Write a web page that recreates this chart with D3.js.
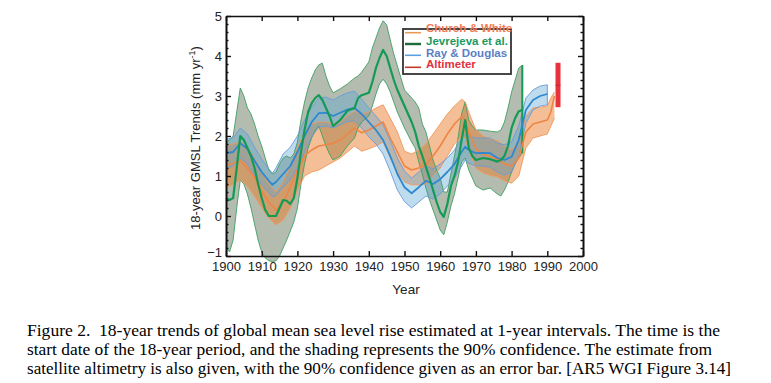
<!DOCTYPE html>
<html><head><meta charset="utf-8">
<script src="https://cdn.jsdelivr.net/npm/d3@7"></script>
<style>
html,body{margin:0;padding:0;background:#fff;}
svg{display:block;}
</style></head>
<body>
<svg id="chart" width="771" height="383"></svg>
<script>
// ---------------- DATA ----------------
// Church & White
const cwYears = [1900,1902,1904,1906,1908,1910,1912,1914,1916,1918,1920,1922,1924,1926,1928,1930,1932,1934,1936,1938,1940,1942,1944,1946,1948,1950,1952,1954,1956,1958,1960,1962,1964,1966,1967,1968,1970,1972,1974,1976,1978,1980,1982,1984,1986,1988,1990,1991,1992];
const cwMid = [1.27,1.32,1.38,1.2,0.95,0.62,0.35,0.15,0.35,0.72,1.15,1.5,1.65,1.75,1.78,1.82,1.9,2.05,2.2,2.08,2.15,2.25,2.35,1.95,1.6,1.25,1.15,1.2,1.28,1.5,1.75,2.05,2.3,2.48,2.4,2.1,1.68,1.55,1.48,1.42,1.3,1.25,1.45,2.1,2.3,2.35,2.4,2.6,3.0];
const cwHi = [1.75,1.8,1.85,1.7,1.45,1.1,0.8,0.6,0.85,1.25,1.7,2.1,2.3,2.35,2.35,2.3,2.35,2.5,2.62,2.55,2.6,2.7,2.78,2.45,2.1,1.62,1.55,1.65,1.8,2.05,2.3,2.55,2.75,2.92,2.85,2.6,2.15,2.0,1.92,1.88,1.75,1.65,1.85,2.5,2.7,2.72,2.75,2.95,3.1];
const cwLo = [0.7,0.8,0.9,0.75,0.5,0.2,-0.05,-0.22,-0.1,0.2,0.65,1.0,1.1,1.15,1.25,1.35,1.45,1.6,1.75,1.62,1.68,1.75,1.85,1.45,1.1,0.85,0.78,0.78,0.8,1.0,1.2,1.5,1.8,2.0,1.95,1.65,1.2,1.08,1.02,0.98,0.88,0.82,1.0,1.7,1.95,2.0,2.05,2.25,2.45];

// Jevrejeva et al.
const jeYears = [1900,1901,1902,1903,1904,1905,1906,1907,1908,1909,1910,1911,1912,1913,1914,1915,1916,1917,1918,1919,1920,1921,1922,1923,1924,1925,1926,1927,1928,1929,1930,1932,1934,1936,1937,1938,1940,1941,1942,1943,1944,1945,1946,1947,1948,1950,1952,1953,1954,1955,1956,1957,1958,1959,1960,1961,1962,1963,1964,1965,1966,1967,1968,1969,1970,1972,1974,1976,1977,1978,1979,1980,1981,1982,1983];
const jeMid = [0.45,0.40,0.45,1.20,2.00,1.90,1.70,1.50,1.20,0.80,0.45,0.15,0.00,0.00,0.00,0.20,0.40,0.38,0.30,0.45,0.95,1.60,2.15,2.60,2.82,2.95,3.02,2.90,2.70,2.50,2.25,2.40,2.63,2.70,2.95,3.02,3.08,3.35,3.70,3.95,4.15,4.00,3.70,3.40,3.15,2.75,2.35,2.10,1.75,1.50,1.23,0.95,0.65,0.35,0.10,-0.02,0.30,0.75,1.00,1.35,1.90,2.40,1.70,1.50,1.40,1.45,1.42,1.36,1.40,1.50,1.75,2.20,2.45,2.62,2.65];
const jeHi = [1.85,1.90,2.00,2.60,3.20,3.00,2.70,2.55,2.30,2.00,1.75,1.45,1.15,1.05,1.10,1.30,1.45,1.50,1.45,1.55,1.85,2.40,2.85,3.20,3.45,3.65,3.78,3.82,3.50,3.25,3.08,3.18,3.30,3.45,3.50,3.60,3.85,4.20,4.45,4.70,4.88,4.78,4.40,4.05,3.75,3.15,2.95,2.85,2.70,2.30,2.10,1.75,1.40,1.15,0.95,0.60,0.60,1.05,1.50,1.95,2.55,2.85,2.40,2.25,2.15,2.15,2.12,2.10,2.15,2.35,2.70,3.10,3.40,3.70,3.77];
const jeLo = [-0.80,-0.90,-0.60,0.20,0.90,0.80,0.55,0.20,-0.20,-0.60,-0.90,-1.05,-1.12,-1.14,-1.12,-1.00,-0.80,-0.60,-0.38,-0.15,0.20,0.80,1.30,1.70,1.95,2.15,2.25,2.00,1.75,1.55,1.40,1.50,1.75,1.95,2.20,2.35,2.50,2.75,3.05,3.30,3.42,3.30,3.10,2.85,2.60,2.20,1.85,1.70,1.35,1.05,0.70,0.40,0.15,-0.10,-0.35,-0.47,-0.15,0.25,0.55,0.95,1.35,1.45,1.15,0.95,0.75,0.65,0.70,0.55,0.50,0.65,0.85,1.10,1.30,1.45,1.57];

// Ray & Douglas
const rdYears = [1900,1902,1904,1906,1908,1910,1912,1913,1914,1916,1918,1920,1922,1924,1926,1928,1930,1932,1934,1936,1938,1940,1942,1944,1946,1948,1950,1952,1954,1956,1958,1960,1962,1964,1966,1967,1968,1970,1972,1974,1976,1978,1980,1982,1984,1986,1988,1990];
const rdMid = [1.57,1.6,1.82,1.68,1.38,1.1,0.88,0.78,0.85,1.05,1.25,1.6,2.0,2.35,2.57,2.58,2.5,2.58,2.66,2.7,2.55,2.35,2.15,1.9,1.5,1.05,0.72,0.57,0.72,0.88,0.8,0.92,1.1,1.3,1.6,1.73,1.65,1.57,1.58,1.57,1.45,1.4,1.48,1.9,2.65,2.9,3.0,3.05];
const rdHi = [1.92,1.95,2.2,2.05,1.72,1.42,1.18,1.07,1.2,1.55,1.72,2.0,2.4,2.72,2.95,2.97,2.9,3.0,3.08,3.12,2.92,2.7,2.5,2.28,1.88,1.45,1.12,0.95,1.1,1.25,1.18,1.3,1.45,1.65,1.95,2.05,2.0,1.95,1.95,1.95,1.82,1.78,1.85,2.25,2.95,3.15,3.25,3.28];
const rdLo = [1.2,1.25,1.45,1.3,1.02,0.78,0.58,0.48,0.52,0.72,0.9,1.2,1.6,1.98,2.22,2.25,2.2,2.28,2.36,2.38,2.2,1.98,1.8,1.55,1.12,0.65,0.36,0.2,0.35,0.5,0.42,0.55,0.75,0.95,1.25,1.4,1.32,1.25,1.25,1.22,1.1,1.02,1.1,1.5,2.32,2.65,2.75,2.78];

// Altimeter
const altYear = 1993;
const altMid = 3.27;
const altLo = 2.72;
const altHi = 3.83;

// Axis / labels
const xTicks = [1900,1910,1920,1930,1940,1950,1960,1970,1980,1990,2000];
const yTicks = [-1,0,1,2,3,4,5];
const legendNames = ["Church & White","Jevrejeva et al.","Ray & Douglas","Altimeter"];
const caption = [
 "Figure 2.  18-year trends of global mean sea level rise estimated at 1-year intervals. The time is the",
 "start date of the 18-year period, and the shading represents the 90% confidence. The estimate from",
 "satellite altimetry is also given, with the 90% confidence given as an error bar. [AR5 WGI Figure 3.14]"
];

// ---------------- DRAW ----------------
const svg = d3.select("#chart");
const x = d3.scaleLinear().domain([1900,2000]).range([226,583]);
const y = d3.scaleLinear().domain([-1,5]).range([256,16]);

const toRows = (yr, m, lo, hi) => yr.map((d,i)=>({yr:d, m:m[i], lo:lo[i], hi:hi[i]}));
const cw = toRows(cwYears,cwMid,cwLo,cwHi);
const je = toRows(jeYears,jeMid,jeLo,jeHi);
const rd = toRows(rdYears,rdMid,rdLo,rdHi);

const area = d3.area().x(d=>x(d.yr)).y0(d=>y(d.lo)).y1(d=>y(d.hi));
const lineM = d3.line().x(d=>x(d.yr)).y(d=>y(d.m));
const lineLo = d3.line().x(d=>x(d.yr)).y(d=>y(d.lo));
const lineHi = d3.line().x(d=>x(d.yr)).y(d=>y(d.hi));

const series = [
  {data: je, fill:"rgb(103,121,95)", fo:0.5, edge:"#3f9f63", line:"#139a55", lw:2.2},
  {data: cw, fill:"rgb(233,125,45)", fo:0.5, edge:"#f0975a", line:"#ef8545", lw:1.6},
  {data: rd, fill:"rgb(93,167,213)", fo:0.4, edge:"#6a9bd8", line:"#2d88d0", lw:1.8}
];
const g = svg.append("g");
series.forEach(s=>{
  g.append("path").attr("d", area(s.data)).attr("fill", s.fill).attr("fill-opacity", s.fo).attr("stroke","none");
});
series.forEach(s=>{
  g.append("path").attr("d", lineLo(s.data)).attr("fill","none").attr("stroke", s.edge).attr("stroke-width",0.9);
  g.append("path").attr("d", lineHi(s.data)).attr("fill","none").attr("stroke", s.edge).attr("stroke-width",0.9);
});
// end caps
const jeLast = je[je.length-1];
g.append("line").attr("x1",x(jeLast.yr)).attr("x2",x(jeLast.yr)).attr("y1",y(jeLast.lo)).attr("y2",y(jeLast.hi))
  .attr("stroke","#139a55").attr("stroke-width",2);
const rdLast = rd[rd.length-1];
g.append("line").attr("x1",x(rdLast.yr)).attr("x2",x(rdLast.yr)).attr("y1",y(rdLast.lo)).attr("y2",y(rdLast.hi))
  .attr("stroke","#6a9bd8").attr("stroke-width",1);
// center lines: orange, blue, green
[series[1], series[2], series[0]].forEach(s=>{
  g.append("path").attr("d", lineM(s.data)).attr("fill","none").attr("stroke", s.line).attr("stroke-width", s.lw).attr("stroke-linejoin","round");
});
// altimeter
g.append("rect").attr("x", x(altYear)-2.5).attr("width",5).attr("y", y(altHi)).attr("height", y(altLo)-y(altHi)).attr("fill","#e8323c");
g.append("line").attr("x1", x(altYear)-2.5).attr("x2", x(altYear)+2.5).attr("y1", y(altMid)).attr("y2", y(altMid)).attr("stroke","#c9222e").attr("stroke-width",1);

// axes
const axisG = svg.append("g").attr("font-family","Arial, 'Liberation Sans', sans-serif");
const styleAxis = sel => {
  sel.select(".domain").attr("stroke","#111").attr("stroke-width",1.6);
  sel.selectAll(".tick line").attr("stroke","#111").attr("stroke-width",1.4);
  sel.selectAll("text").attr("font-size",13).attr("fill","#222").attr("font-family","Arial, 'Liberation Sans', sans-serif");
};
axisG.append("g").attr("transform","translate(0,256)")
  .call(d3.axisBottom(x).tickValues(xTicks).tickFormat(d3.format("d")).tickSizeInner(-5).tickSizeOuter(0).tickPadding(6)).call(styleAxis);
axisG.append("g").attr("transform","translate(0,16)")
  .call(d3.axisTop(x).tickValues(xTicks).tickFormat("").tickSizeInner(-5).tickSizeOuter(0)).call(styleAxis);
const leftAx = axisG.append("g").attr("transform","translate(226,0)")
  .call(d3.axisLeft(y).tickValues(yTicks).tickFormat(d3.format("d")).tickSizeInner(-5).tickSizeOuter(0).tickPadding(4)).call(styleAxis);
leftAx.selectAll(".tick text").filter(d=>d===-1).attr("dy","0.02em");
axisG.append("g").attr("transform","translate(583,0)")
  .call(d3.axisRight(y).tickValues(yTicks).tickFormat("").tickSizeInner(-5).tickSizeOuter(0)).call(styleAxis);
const minor = d3.range(-1,5.001,0.2).filter(v=>Math.abs(v-Math.round(v))>0.01);
axisG.append("g").attr("transform","translate(226,0)")
  .call(d3.axisLeft(y).tickValues(minor).tickFormat("").tickSizeInner(-2.5).tickSizeOuter(0)).call(styleAxis);
axisG.append("g").attr("transform","translate(583,0)")
  .call(d3.axisRight(y).tickValues(minor).tickFormat("").tickSizeInner(-2.5).tickSizeOuter(0)).call(styleAxis);

// axis titles
svg.append("text").attr("x",406).attr("y",294).attr("text-anchor","middle")
  .attr("font-family","Arial, 'Liberation Sans', sans-serif").attr("font-size",13.5).attr("fill","#222").text("Year");
const yl = svg.append("text").attr("transform","translate(200,138) rotate(-90)").attr("text-anchor","middle")
  .attr("font-family","Arial, 'Liberation Sans', sans-serif").attr("font-size",13).attr("fill","#222");
yl.append("tspan").text("18-year GMSL Trends (mm yr");
yl.append("tspan").attr("font-size",9).attr("dy",-5).text("-1");
yl.append("tspan").attr("dy",5).text(")");

// legend
const lg = svg.append("g");
lg.append("rect").attr("x",403).attr("y",29).attr("width",108).attr("height",45).attr("fill","#fff").attr("stroke","#333").attr("stroke-width",1.8);
const lineCols = ["#e89a55","#1f6b3a","#5aa0e0","#c0392b"];
const textCols = ["#f27a55","#1a9a5e","#5b7ec6","#e23040"];
const textY = [27.5,40.7,52.7,64];
const lineY = [32.7,44,55.3,67.3];
legendNames.forEach((n,i)=>{
  lg.append("line").attr("x1",405).attr("x2",421).attr("y1",lineY[i]).attr("y2",lineY[i]).attr("stroke",lineCols[i]).attr("stroke-width",i===1?2.4:1.6);
  lg.append("text").attr("x",426).attr("y",textY[i]).attr("dy","0.35em")
    .attr("font-family","Arial, 'Liberation Sans', sans-serif").attr("font-weight","bold").attr("font-size",11.5)
    .attr("fill",textCols[i]).text(n);
});

// caption
const capEnds = [720,712,731];
caption.forEach((t,i)=>{
  svg.append("text").attr("x",27).attr("y",336+i*19).attr("font-family","'Liberation Serif','Times New Roman',serif")
    .style("white-space","pre")
    .attr("font-size",16.5).attr("fill","#000").attr("textLength",capEnds[i]-27).attr("lengthAdjust","spacingAndGlyphs").text(t);
});
</script>
</body></html>
